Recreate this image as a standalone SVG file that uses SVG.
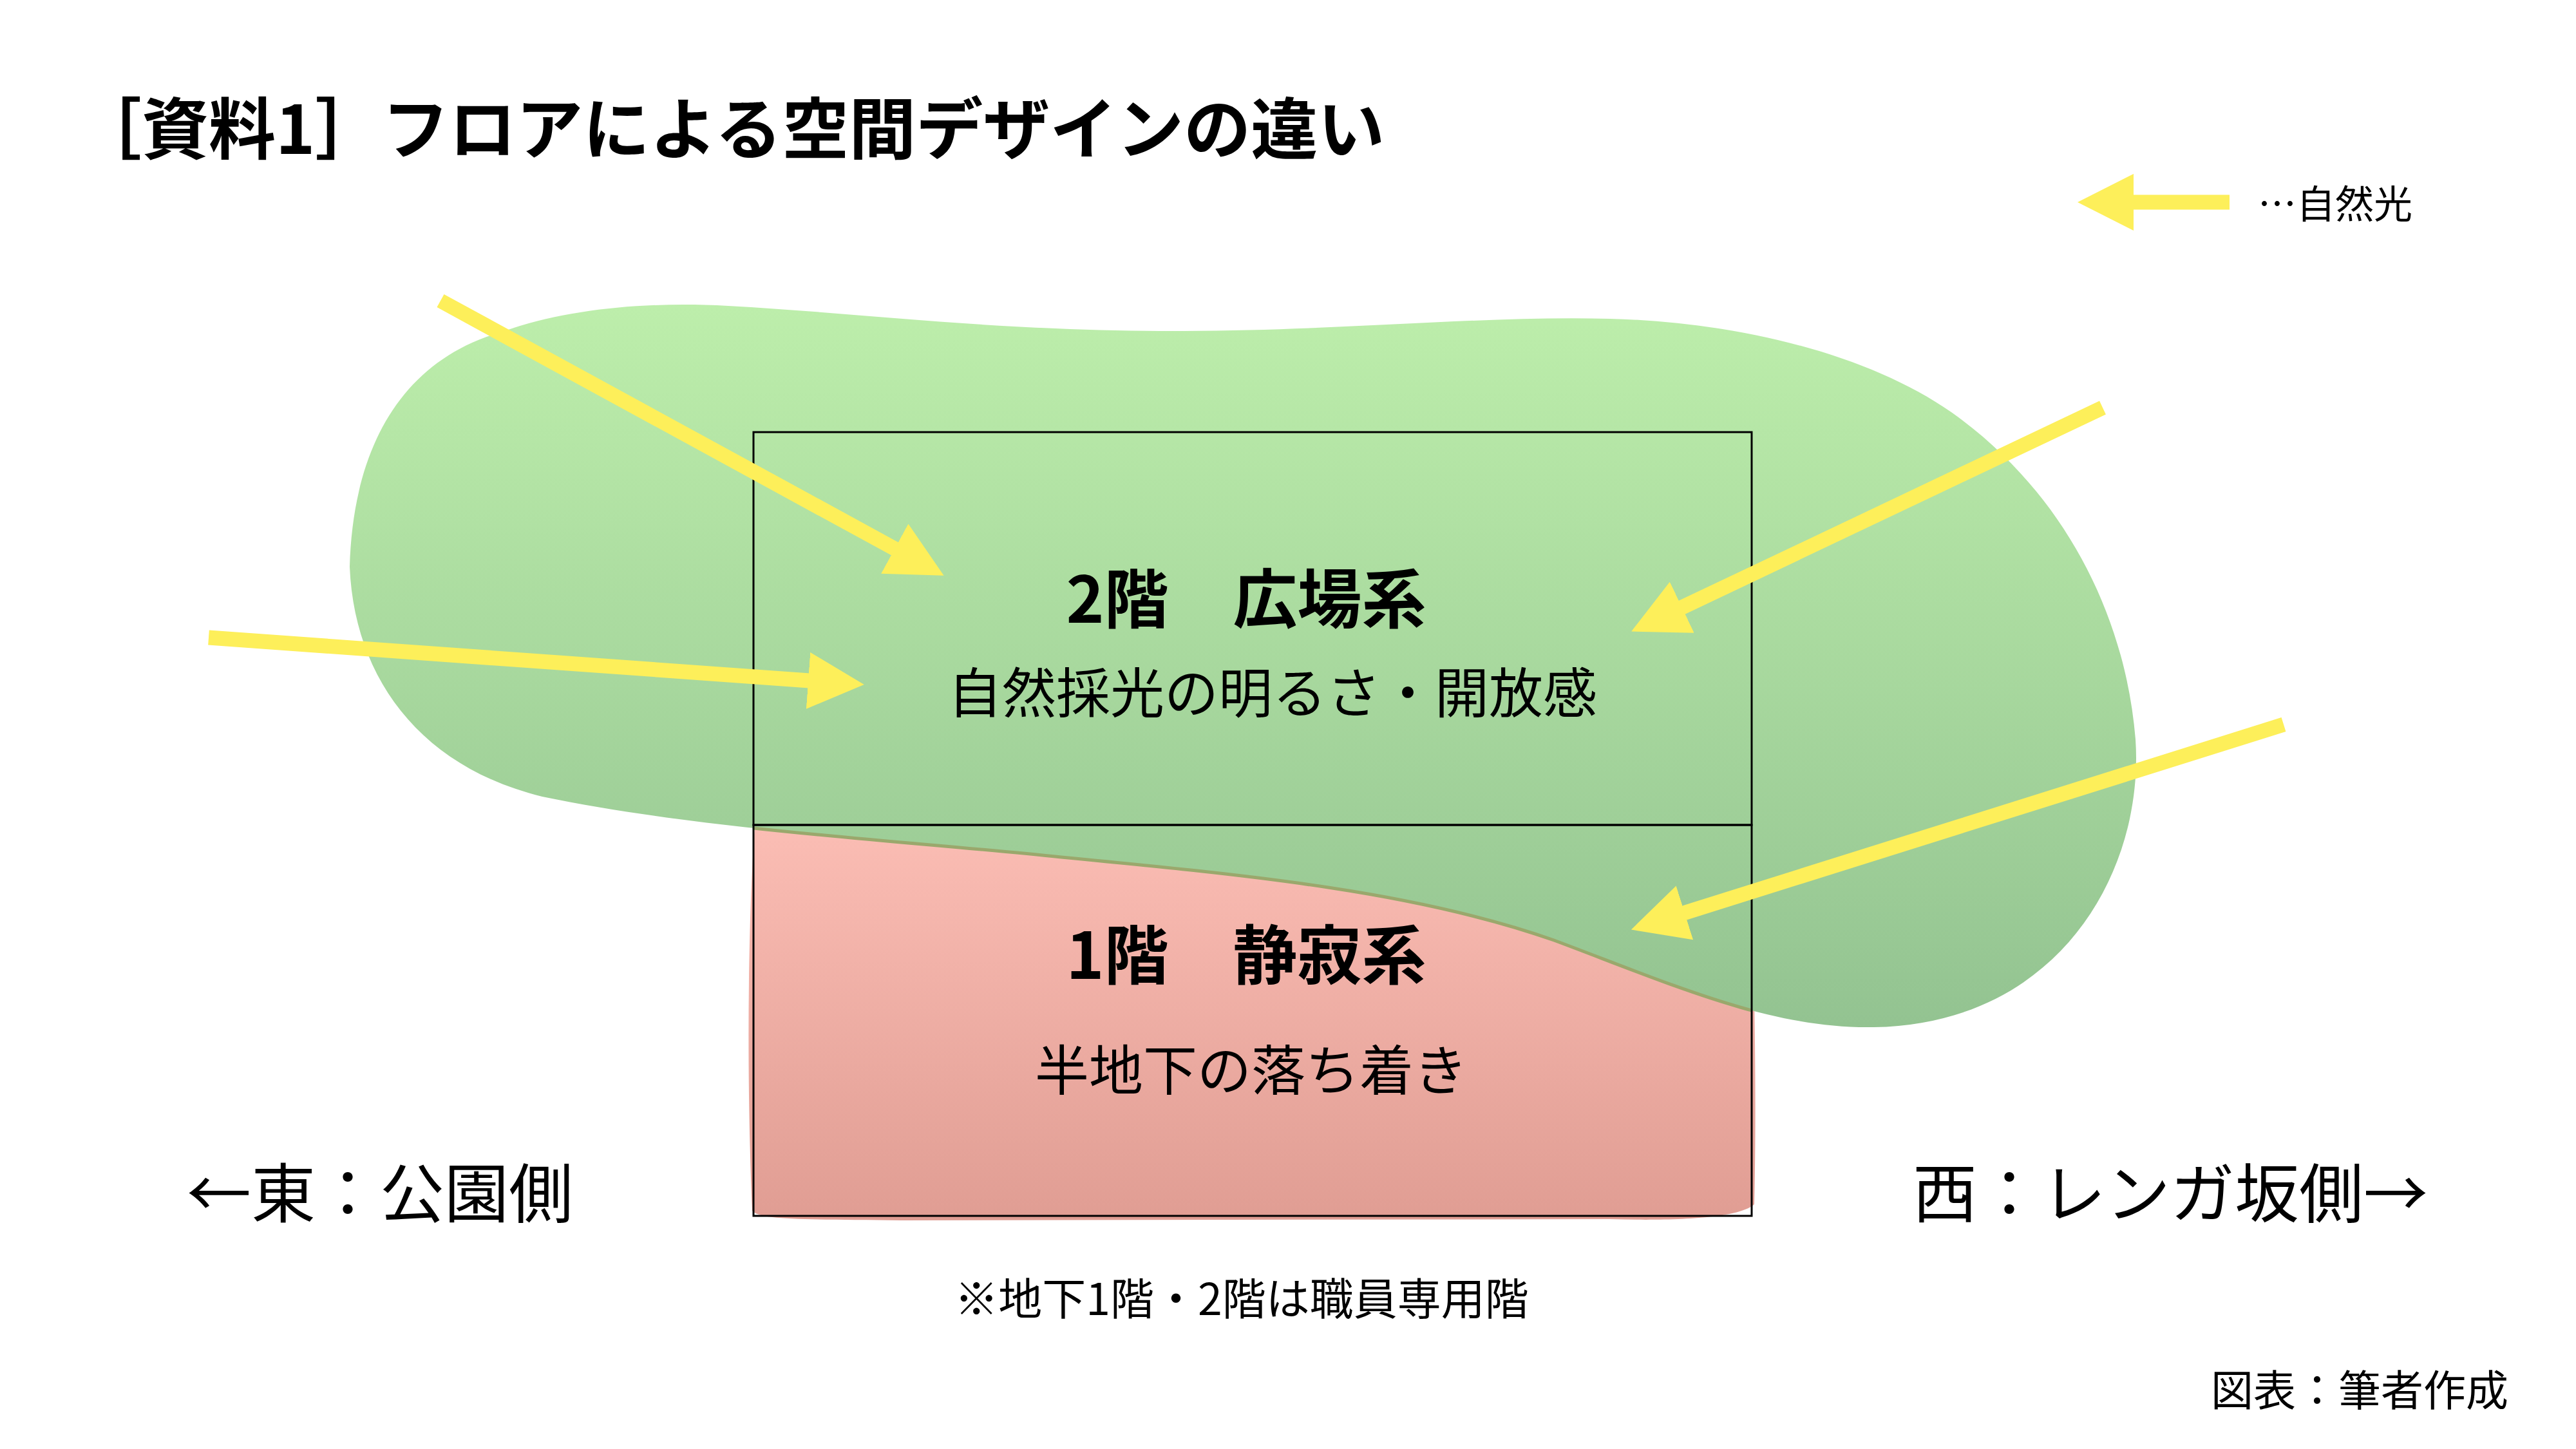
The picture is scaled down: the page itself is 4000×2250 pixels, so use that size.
<svg xmlns="http://www.w3.org/2000/svg" width="4000" height="2250" viewBox="0 0 4000 2250">
  <style>
    text { font-family: "Noto Sans CJK JP", "Noto Sans", sans-serif; fill: #000; }
    .title { font-size: 104px; font-weight: 700; }
    .head { font-size: 100px; font-weight: 700; text-anchor: middle; }
    .sub { font-size: 84px; text-anchor: middle; }
    .side { font-size: 100px; }
    .note { font-size: 68px; text-anchor: middle; }
    .small { font-size: 60px; }
    .credit { font-size: 66px; }
    .floor { fill: none; stroke: #000; stroke-width: 3; }
    .ray { stroke: #fdef5a; stroke-width: 23; fill: none; marker-end: url(#head); }
  </style>
  <defs>
    <linearGradient id="gGreen" x1="0" y1="0" x2="0" y2="1">
      <stop offset="0" stop-color="#bdeeab"/>
      <stop offset="1" stop-color="#93c391"/>
    </linearGradient>
    <linearGradient id="gPink" x1="0" y1="0" x2="0" y2="1">
      <stop offset="0" stop-color="#fbbdb4"/>
      <stop offset="1" stop-color="#e09d93"/>
    </linearGradient>
    <marker id="head" viewBox="0 0 87 88" markerUnits="userSpaceOnUse" markerWidth="87" markerHeight="88" refX="2" refY="44" orient="auto">
      <path d="M0,0 L87,44 L0,88 Z" fill="#fdef5a"/>
    </marker>
    <clipPath id="lowerClip">
      <rect x="1170" y="1281" width="1550" height="607"/>
    </clipPath>
  </defs>

  <rect width="4000" height="2250" fill="#fff"/>

  <g id="title">
    <text class="title" x="116" y="239">［資料1］フロアによる空間デザインの違い</text>
  </g>

  <g id="legend">
    <line class="ray" x1="3462" y1="314" x2="3311" y2="314"/>
    <text class="small" x="3506" y="339">…自然光</text>
  </g>

  <g id="floor1-fill">
    <path d="M1172,1282 L2718,1282 C2724,1500 2728,1700 2724,1870 C2700,1892 2600,1896 2500,1893 L1400,1895 C1250,1893 1180,1895 1168,1880 C1160,1700 1160,1450 1172,1282 Z" fill="url(#gPink)"/>
  </g>

  <g id="light-zone">
    <path id="blob" d="M543,880 C548,700 620,560 780,515 C880,480 1000,468 1131,475 C1350,487 1550,515 1839,514 C2100,513 2300,490 2500,495 C2700,500 2900,550 3030,640 C3200,760 3300,950 3316,1148 C3330,1350 3200,1590 2910,1595 C2750,1598 2600,1530 2413,1460 C2200,1385 1950,1360 1648,1331 C1400,1305 1100,1290 842,1237 C650,1190 550,1050 543,880 Z" fill="url(#gGreen)"/>
    <path d="M2910,1595 C2750,1598 2600,1530 2413,1460 C2200,1385 1950,1360 1648,1331 C1400,1305 1100,1290 842,1237" fill="none" stroke="#9aa86c" stroke-width="5" clip-path="url(#lowerClip)"/>
  </g>

  <g id="floor2">
    <rect class="floor" x="1170" y="671" width="1550" height="610"/>
    <text class="head" x="1935" y="967">2階　広場系</text>
    <text class="sub" x="1976" y="1107">自然採光の明るさ・開放感</text>
  </g>

  <g id="floor1">
    <rect class="floor" x="1170" y="1281" width="1550" height="607"/>
    <text class="head" x="1935" y="1520">1階　静寂系</text>
    <text class="sub" x="1943" y="1693">半地下の落ち着き</text>
  </g>

  <g id="connectors">
    <line class="ray" x1="684" y1="467" x2="1391" y2="853"/>
    <line class="ray" x1="324" y1="990" x2="1257" y2="1057"/>
    <line class="ray" x1="3265" y1="633" x2="2610" y2="944"/>
    <line class="ray" x1="3546" y1="1125" x2="2614" y2="1418"/>
  </g>

  <g id="labels">
    <text class="side" x="290" y="1890">←東：公園側</text>
    <text class="side" x="2970" y="1890">西：レンガ坂側→</text>
    <text class="note" x="1928" y="2042">※地下1階・2階は職員専用階</text>
    <text class="credit" x="3433" y="2183">図表：筆者作成</text>
  </g>
</svg>
